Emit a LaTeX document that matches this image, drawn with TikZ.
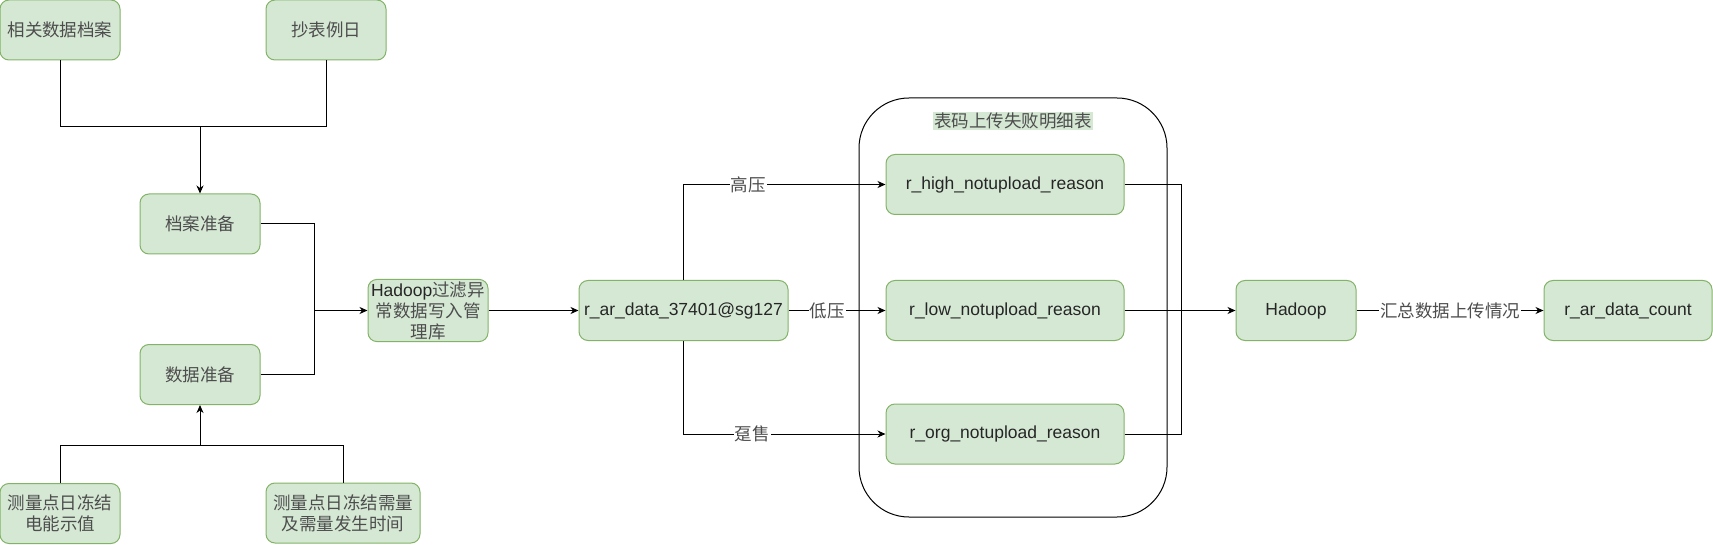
\documentclass[tikz,border=0pt]{standalone}
\usepackage{fontspec}
\setmainfont{Liberation Sans}
\newfontfamily\cjk{Noto Sans CJK SC}
\usetikzlibrary{arrows.meta}
\definecolor{boxfill}{HTML}{D5E8D4}
\definecolor{boxline}{HTML}{82B366}
\definecolor{txt}{HTML}{262626}
\definecolor{cjktxt}{HTML}{4D4D4D}
\newcommand\zh[1]{{\cjk\color{cjktxt}#1}}
\begin{document}
\begin{tikzpicture}[x=1pt,y=-1pt,
  fs/.style={font=\fontsize{17.5}{21}\selectfont},
  box/.style={fs, draw=boxline, fill=boxfill, line width=1pt, rounded corners=9pt,
    minimum width=120pt, minimum height=60pt, align=center, inner sep=2pt, text=txt},
  conn/.style={line width=1pt, draw=black},
  arr/.style={conn, -{Stealth[length=8pt,width=7pt,inset=2.5pt]}},
  lab/.style={fs, fill=white, inner sep=1pt, text=txt}
]
\useasboundingbox (0,0) rectangle (1713,545);

% container
\node[draw, line width=1pt, rounded corners=50pt, minimum width=308pt, minimum height=419pt, inner sep=0pt] (cont) at (1013,307.5) {};
\node[fs, fill=boxfill, inner sep=1pt] (title) at (1013,121) {\zh{表码上传失败明细表}};

% left nodes
\node[box] (a1) at (60,30) {\zh{相关数据档案}};
\node[box] (a2) at (326,30) {\zh{抄表例日}};
\node[box] (prep1) at (200,224) {\zh{档案准备}};
\node[box] (prep2) at (200,374.5) {\zh{数据准备}};
\node[box] (b1) at (60,513.5) {\zh{测量点日冻结}\\\zh{电能示值}};
\node[box, minimum width=154pt] (b2) at (343,513) {\zh{测量点日冻结需量}\\\zh{及需量发生时间}};
\node[box] (hf) at (428,310.5) {Hadoop\zh{过滤异}\\\zh{常数据写入管}\\\zh{理库}};
\node[box, minimum width=209pt] (rar) at (683.5,310.5) {r\_ar\_data\_37401@sg127};

% container boxes
\node[box, minimum width=238pt] (rh) at (1005,184.5) {r\_high\_notupload\_reason};
\node[box, minimum width=238pt] (rl) at (1005,310.5) {r\_low\_notupload\_reason};
\node[box, minimum width=238pt] (ro) at (1005,434) {r\_org\_notupload\_reason};

% right nodes
\node[box] (hd) at (1296,310.5) {Hadoop};
\node[box, minimum width=168pt] (cnt) at (1628,310.5) {r\_ar\_data\_count};

% connectors
\coordinate (j1) at (200,127);
\draw[conn] (a1.south) |- (j1);
\draw[conn] (a2.south) |- (j1);
\draw[arr] (j1) -- (prep1.north);

\coordinate (j2) at (314,310.5);
\draw[conn] (prep1.east) -| (j2);
\draw[conn] (prep2.east) -| (j2);
\draw[arr] (j2) -- (hf.west);

\coordinate (j3) at (200,445);
\draw[conn] (b1.north) |- (j3);
\draw[conn] (b2.north) |- (j3);
\draw[arr] (j3) -- (prep2.south);

\draw[arr] (hf.east) -- (rar.west);
\draw[arr] (rar.north) |- node[lab, pos=0.66] (l1) {\zh{高压}} (rh.west);
\draw[arr] (rar.east) -- node[lab, pos=0.4] (l2) {\zh{低压}} (rl.west);
\draw[arr] (rar.south) |- node[lab, pos=0.67] (l3) {\zh{趸售}} (ro.west);

\coordinate (j4) at (1181,310.5);
\draw[conn] (rh.east) -| (j4);
\draw[conn] (ro.east) -| (j4);
\draw[arr] (rl.east) -- (hd.west);

\draw[arr] (hd.east) -- node[lab, pos=0.5] (l4) {\zh{汇总数据上传情况}} (cnt.west);
\end{tikzpicture}
\end{document}
